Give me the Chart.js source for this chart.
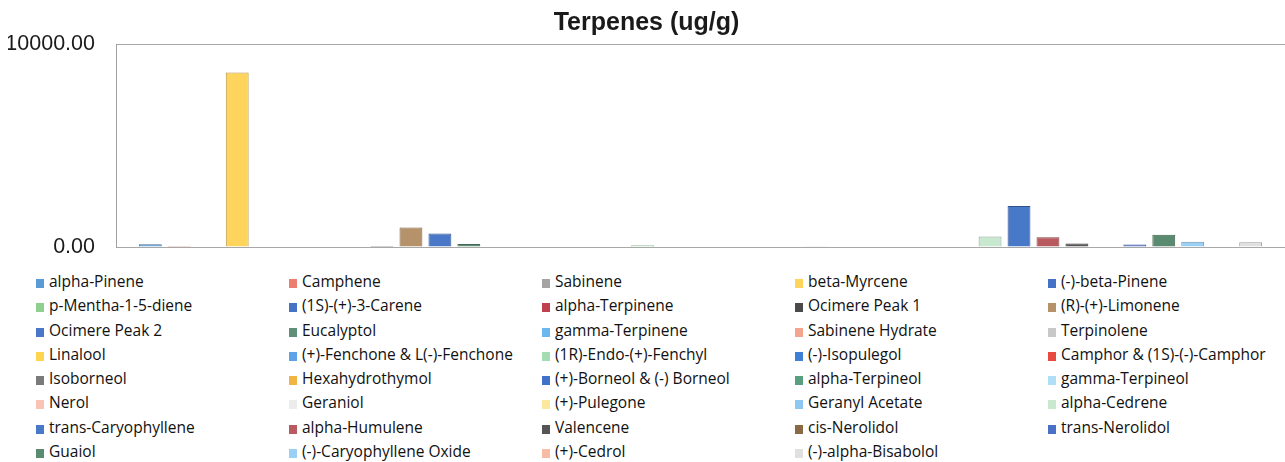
<!DOCTYPE html>
<html>
<head>
<meta charset="utf-8">
<script src="https://cdn.jsdelivr.net/npm/chart.js@4.4.1/dist/chart.umd.min.js"></script>
<style>
  body { margin: 0; background: #fff; width: 1285px; height: 462px; overflow: hidden; position: relative; }
  #chart { position: absolute; left: 0; top: 0; }
  #legend { position: absolute; left: 36px; top: 269px; width: 1260px; font-family: "Open Sans", sans-serif; font-size: 15.5px; color: #111; }
  .row { height: 24.3px; line-height: 24.3px; white-space: nowrap; }
  .item { display: inline-block; width: 253px; }
  .sw { display: inline-block; width: 8px; height: 9px; margin-right: 5px; vertical-align: -1px; }
</style>
</head>
<body>
<canvas id="chart" width="1285" height="265"></canvas>
<div id="legend"></div>
<script>
// terpene names, in legend order
const terpenes = [
  "alpha-Pinene", "Camphene", "Sabinene", "beta-Myrcene", "(-)-beta-Pinene",
  "p-Mentha-1-5-diene", "(1S)-(+)-3-Carene", "alpha-Terpinene", "Ocimere Peak 1", "(R)-(+)-Limonene",
  "Ocimere Peak 2", "Eucalyptol", "gamma-Terpinene", "Sabinene Hydrate", "Terpinolene",
  "Linalool", "(+)-Fenchone & L(-)-Fenchone", "(1R)-Endo-(+)-Fenchyl", "(-)-Isopulegol", "Camphor & (1S)-(-)-Camphor",
  "Isoborneol", "Hexahydrothymol", "(+)-Borneol & (-) Borneol", "alpha-Terpineol", "gamma-Terpineol",
  "Nerol", "Geraniol", "(+)-Pulegone", "Geranyl Acetate", "alpha-Cedrene",
  "trans-Caryophyllene", "alpha-Humulene", "Valencene", "cis-Nerolidol", "trans-Nerolidol",
  "Guaiol", "(-)-Caryophyllene Oxide", "(+)-Cedrol", "(-)-alpha-Bisabolol"
];

// ug/g
const amounts = [
  130, 50, 0, 8600, 0,
  0, 0, 0, 50, 960,
  660, 150, 0, 0, 0,
  0, 0, 90, 0, 0,
  0, 0, 0, 40, 0,
  0, 0, 0, 0, 520,
  2020, 480, 170, 0, 120,
  600, 260, 0, 240
];

const colors = [
  "#5b9bd5", "#ed7d6f", "#a5a5a5", "#ffd45c", "#4472c4",
  "#8fcf8f", "#4472c4", "#c0404e", "#4a4a4a", "#b5926a",
  "#4a78c8", "#5f8f78", "#6ab8ee", "#f4a58f", "#c8c8c8",
  "#ffd54f", "#5ea2e8", "#a6dcb2", "#3f7fd8", "#e84a40",
  "#7a7a7a", "#f2b440", "#3f72c8", "#5a9e80", "#b0def6",
  "#f9c4b4", "#ececec", "#fde99e", "#8ec8f2", "#c8e8d0",
  "#4878c8", "#b85a60", "#555555", "#8a6a45", "#4a70c8",
  "#5a8a70", "#9ad0f5", "#f8bca6", "#e0e0e0"
];

const yTicks = [0, 10000];

function darken(hex, f) {
  const n = parseInt(hex.slice(1), 16);
  const r = Math.round(((n >> 16) & 255) * f);
  const g = Math.round(((n >> 8) & 255) * f);
  const b = Math.round((n & 255) * f);
  return `rgb(${r},${g},${b})`;
}

const datasets = terpenes.map((name, i) => ({
  label: name,
  data: [amounts[i]],
  backgroundColor: colors[i],
  borderColor: darken(colors[i], 0.7),
  borderWidth: 1,
  categoryPercentage: 0.966,
  barPercentage: 0.79
}));

new Chart(document.getElementById("chart").getContext("2d"), {
  type: "bar",
  data: { labels: [""], datasets: datasets },
  options: {
    responsive: false,
    animation: false,
    layout: { padding: { left: 8, right: 0, top: 0, bottom: 18 } },
    plugins: {
      legend: { display: false },
      tooltip: { enabled: false },
      title: {
        display: true,
        text: "Terpenes (ug/g)",
        color: "#1a1a1a",
        font: { family: "Liberation Sans", size: 25, weight: "bold" },
        padding: { top: 8, bottom: 6 }
      }
    },
    scales: {
      x: { display: false },
      y: {
        min: yTicks[0],
        max: yTicks[1],
        afterBuildTicks: s => { s.ticks = yTicks.map(v => ({ value: v })); },
        afterFit: s => {
          s.width = 108;
          // keep the tick padding from pushing the plot area in
          s.paddingTop = 0;
          s.paddingBottom = 0;
        },
        ticks: {
          padding: 21,
          color: "#1a1a1a",
          font: { family: "Liberation Sans", size: 21.5 },
          callback: v => v.toFixed(2)
        },
        grid: { color: "#a8a8a8", drawTicks: false },
        border: { color: "#a0a0a0" }
      }
    }
  }
});

// legend as a 5-column grid, like the original
const legend = document.getElementById("legend");
for (let r = 0; r < Math.ceil(terpenes.length / 5); r++) {
  const row = document.createElement("div");
  row.className = "row";
  for (let c = 0; c < 5; c++) {
    const i = r * 5 + c;
    if (i >= terpenes.length) break;
    row.innerHTML += `<span class="item"><span class="sw" style="background:${colors[i]}"></span>${terpenes[i]}</span>`;
  }
  legend.appendChild(row);
}
</script>
</body>
</html>
